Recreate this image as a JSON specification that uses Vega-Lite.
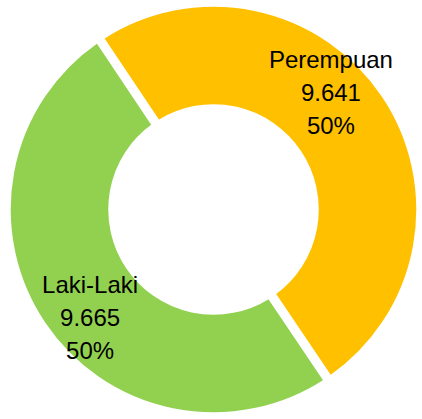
{
  "$schema": "https://vega.github.io/schema/vega-lite/v6.json",
  "width": 422,
  "height": 419,
  "autosize": {"type": "fit", "contains": "padding"},
  "padding": 0,
  "background": "white",
  "config": {
    "view": {"stroke": null},
    "locale": {"number": {"decimal": ",", "thousands": ".", "grouping": [3], "currency": ["Rp", ""]}}
  },
  "data": {
    "values": [
      {"jenis": "Laki-Laki", "jumlah": 9665, "persen": 0.5},
      {"jenis": "Perempuan", "jumlah": 9641, "persen": 0.5}
    ]
  },
  "encoding": {
    "theta": {"field": "jumlah", "type": "quantitative", "stack": true, "scale": {"range": [2.548, 8.831]}},
    "order": {"field": "jenis", "type": "nominal", "sort": "ascending"}
  },
  "layer": [
    {
      "mark": {"type": "arc", "radius": 204, "radius2": 104, "padAngle": 0.03, "stroke": "white", "strokeWidth": 2.5, "xOffset": 3},
      "encoding": {
        "color": {"field": "jenis", "type": "nominal", "legend": null, "scale": {"domain": ["Laki-Laki", "Perempuan"], "range": ["#92D050", "#FFC000"]}}
      }
    },
    {
      "mark": {"type": "text", "radius": 165, "thetaOffset": -0.161, "dy": -36, "font": "Liberation Sans", "fontSize": 24, "color": "black", "baseline": "middle", "align": "center"},
      "encoding": {"text": {"field": "jenis", "type": "nominal"}}
    },
    {
      "mark": {"type": "text", "radius": 165, "thetaOffset": -0.161, "dy": -3, "font": "Liberation Sans", "fontSize": 24, "color": "black", "baseline": "middle", "align": "center"},
      "encoding": {"text": {"field": "jumlah", "type": "quantitative", "format": ",.0f"}}
    },
    {
      "mark": {"type": "text", "radius": 165, "thetaOffset": -0.161, "dy": 30, "font": "Liberation Sans", "fontSize": 24, "color": "black", "baseline": "middle", "align": "center"},
      "encoding": {"text": {"field": "persen", "type": "quantitative", "format": ".0%"}}
    }
  ]
}
